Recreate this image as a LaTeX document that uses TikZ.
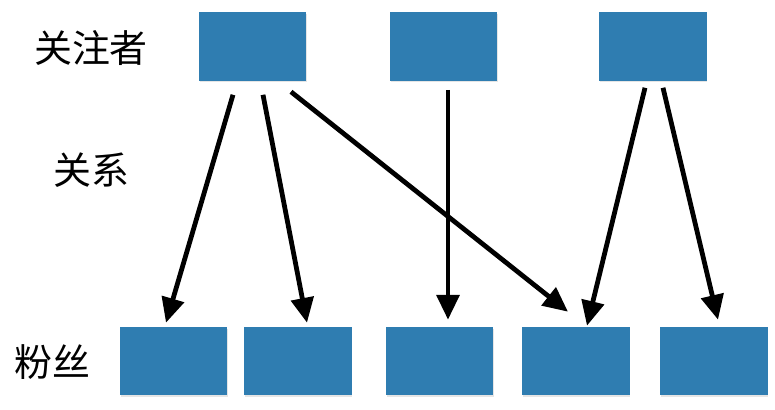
\documentclass[tikz,border=0pt]{standalone}
\usepackage{fontspec}
\newfontfamily\cjk{Noto Sans CJK SC}
\usetikzlibrary{arrows.meta,calc,shadows}
\definecolor{BoxBlue}{HTML}{2F7DB1}

\begin{document}
\begin{tikzpicture}[x=0.025cm,y=-0.025cm]
    \tikzset{userbox/.style={fill=BoxBlue,draw=none,minimum width=2.68cm,minimum height=1.7cm,inner sep=0pt,drop shadow={opacity=0.2,shadow xshift=0.6pt,shadow yshift=-1.2pt}},
             rowlabel/.style={font=\cjk\fontsize{27}{30}\selectfont,inner sep=0pt},
             relarrow/.style={line width=3.4pt,-{Triangle[length=6.2mm,width=5.6mm]}}}
    \useasboundingbox[fill=white] (0,0) rectangle (775,409);
    % labels
    \node[rowlabel] (lfollow) at (91,48) {关注者};
    \node[rowlabel] (lrel) at (91,170) {关系};
    \node[rowlabel] (lfans) at (52,362) {粉丝};
    % followers
    \node[userbox] (g1) at (252.5,46.5) {};
    \node[userbox] (g2) at (443.5,46.5) {};
    \node[userbox] (g3) at (653,46.5) {};
    % fans
    \node[userbox] (f1) at (173.5,361) {};
    \node[userbox] (f2) at (298,361) {};
    \node[userbox] (f3) at (439.5,361) {};
    \node[userbox] (f4) at (576,361) {};
    \node[userbox] (f5) at (714,361) {};
    % relations
    \draw[relarrow] ($(g1.south)+(-19.5,14)$) -- ($(f1.north)+(-7.5,-4)$);
    \draw[relarrow] ($(g1.south)+(10.5,14)$) -- ($(f2.north)+(9,-4)$);
    \draw[relarrow] ($(g1.south)+(38.5,11)$) -- ($(f4.north)+(-8,-15)$);
    \draw[relarrow] ($(g2.south)+(4.5,9)$) -- ($(f3.north)+(8.5,-7)$);
    \draw[relarrow] ($(g3.south)+(-8,7)$) -- ($(f4.north)+(11,-1)$);
    \draw[relarrow] ($(g3.south)+(10,7)$) -- ($(f5.north)+(4,-7)$);
\end{tikzpicture}
\end{document}
